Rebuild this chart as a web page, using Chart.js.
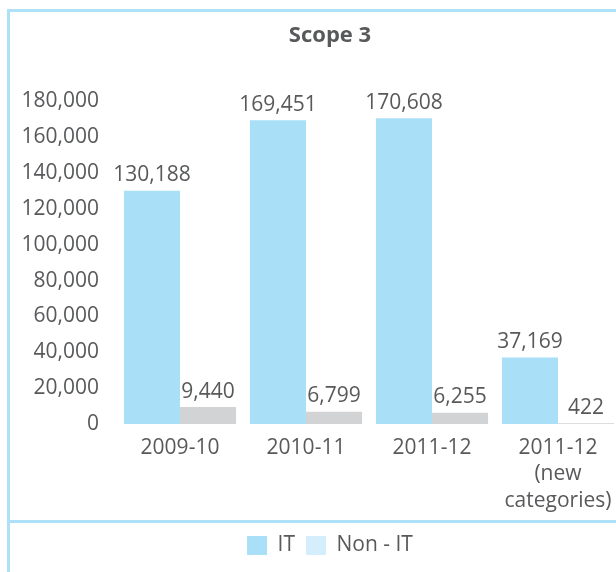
<!DOCTYPE html>
<html>
<head>
<meta charset="utf-8">
<script src="https://cdn.jsdelivr.net/npm/chart.js@4"></script>
<style>
  html, body { margin: 0; padding: 0; background: #fff; overflow: hidden; }
  #wrap { position: relative; width: 616px; height: 572px; overflow: hidden; }
  .frame { position: absolute; left: 7px; top: 9px; width: 700px; height: 700px; border: 3px solid #aee1f8; box-sizing: border-box; }
  .divider { position: absolute; left: 7px; top: 520px; width: 700px; height: 3px; background: #aee1f8; }
  #chart { position: absolute; left: 0; top: 0; }
</style>
</head>
<body>
<div id="wrap">
  <div class="frame"></div>
  <div class="divider"></div>
  <canvas id="chart" width="660" height="572"></canvas>
</div>
<script>
// data
const categories = ["2009-10", "2010-11", "2011-12", ["2011-12", "(new", "categories)"]];
const itValues = [130188, 169451, 170608, 37169];
const nonItValues = [9440, 6799, 6255, 422];
const seriesNames = ["IT", "Non - IT"];
const yMax = 180000;
const yStep = 20000;

const textColor = "#58595b";
const barColors = ["#aadff8", "#d1d3d4"];
const legendColors = ["#aadff8", "#d5eefb"];

// labels over each bar
const barValueLabels = {
  id: "barValueLabels",
  afterDatasetsDraw(chart) {
    const ctx = chart.ctx;
    ctx.save();
    ctx.font = "21px 'Open Sans'";
    ctx.fillStyle = textColor;
    ctx.textAlign = "center";
    ctx.textBaseline = "bottom";
    chart.data.datasets.forEach(function(ds, i) {
      chart.getDatasetMeta(i).data.forEach(function(bar, j) {
        ctx.fillText(ds.data[j].toLocaleString("en-US"), bar.x, bar.y - 5);
      });
    });
    ctx.restore();
  }
};

new Chart(document.getElementById("chart"), {
  type: "bar",
  data: {
    labels: categories,
    datasets: [
      { label: seriesNames[0], data: itValues, backgroundColor: barColors[0] },
      { label: seriesNames[1], data: nonItValues, backgroundColor: barColors[1] }
    ]
  },
  options: {
    responsive: false,
    animation: false,
    categoryPercentage: 0.89,
    barPercentage: 1,
    layout: { padding: { left: 0, right: 0, top: 14, bottom: 6 } },
    scales: {
      x: {
        grid: { display: false, drawTicks: false },
        border: { display: false },
        ticks: { color: textColor, font: { family: "Open Sans", size: 21, lineHeight: 1.25 }, padding: 11, maxRotation: 0, autoSkip: false },
        afterFit: function(s) { s.height = 100; }
      },
      y: {
        min: 0,
        max: yMax,
        grid: { display: false, drawTicks: false },
        border: { display: false },
        ticks: {
          stepSize: yStep,
          color: textColor,
          padding: 18,
          font: { family: "Open Sans", size: 21 },
          callback: function(v) { return v.toLocaleString("en-US"); }
        },
        afterFit: function(s) { s.width = 117; }
      },
      // empty right axis, keeps the plot off the right edge
      yRight: {
        position: "right",
        grid: { display: false, drawTicks: false },
        border: { display: false },
        ticks: { display: false },
        afterFit: function(s) { s.width = 39; }
      }
    },
    plugins: {
      title: {
        display: true,
        text: "Scope 3",
        color: textColor,
        font: { family: "Open Sans", size: 22, weight: "bold" },
        padding: { top: 9, bottom: 52 }
      },
      legend: {
        position: "bottom",
        labels: {
          color: textColor,
          font: { family: "Open Sans", size: 21 },
          boxWidth: 20,
          boxHeight: 19,
          padding: 11,
          generateLabels: function(chart) {
            return chart.data.datasets.map(function(ds, i) {
              return { text: ds.label, fillStyle: legendColors[i], strokeStyle: legendColors[i], lineWidth: 0, fontColor: textColor, datasetIndex: i };
            });
          }
        }
      },
      tooltip: { enabled: false }
    }
  },
  plugins: [barValueLabels]
});
</script>
</body>
</html>
